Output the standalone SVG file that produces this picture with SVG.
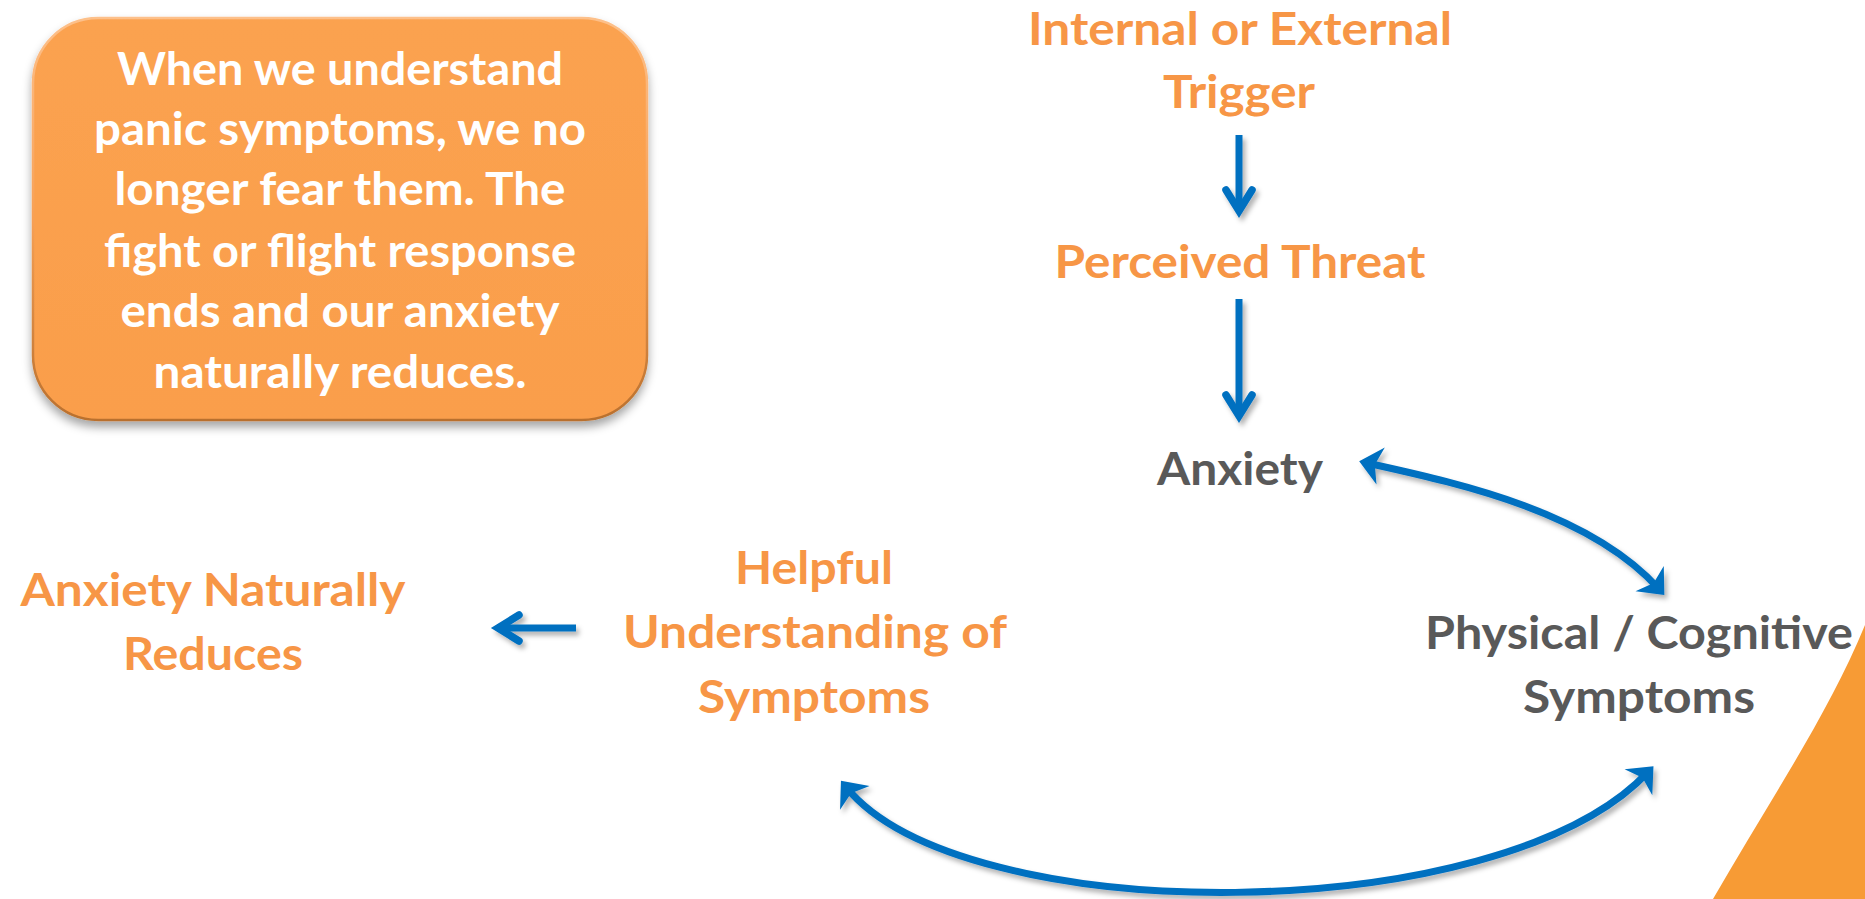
<svg xmlns="http://www.w3.org/2000/svg" width="1865" height="899" viewBox="0 0 1865 899">
  <style>
    .t { font-family: Lato, "Open Sans", "Liberation Sans", sans-serif; font-weight: 700; font-size: 46px; text-anchor: middle; }
    .o { fill: #F79646; }
    .g { fill: #595959; }
    .w { fill: #FFFFFF; }
    .line { fill: none; stroke: #0070C0; stroke-width: 7; }
  </style>
  <defs>
    <filter id="sh" x="-20%" y="-20%" width="140%" height="140%">
      <feDropShadow dx="3" dy="4" stdDeviation="2.5" flood-color="#000" flood-opacity="0.3"/>
    </filter>
    <filter id="boxsh" x="-10%" y="-10%" width="120%" height="125%">
      <feDropShadow dx="0" dy="6" stdDeviation="5" flood-color="#000" flood-opacity="0.35"/>
    </filter>
    <linearGradient id="edge" x1="0" y1="0" x2="0" y2="1">
      <stop offset="0" stop-color="#FDC08A"/>
      <stop offset="0.5" stop-color="#F7A055"/>
      <stop offset="1" stop-color="#B9702E"/>
    </linearGradient>
    <linearGradient id="fillg" x1="0" y1="0" x2="0" y2="1">
      <stop offset="0" stop-color="#FBA250"/>
      <stop offset="1" stop-color="#FA9E4B"/>
    </linearGradient>
    <marker id="head" markerUnits="userSpaceOnUse" orient="auto-start-reverse" markerWidth="1" markerHeight="1" refX="0" refY="0" overflow="visible">
      <path d="M 8 0 L -14 -19 L -8 0 L -14 19 Z" fill="#0070C0"/>
    </marker>
    <marker id="open" markerUnits="userSpaceOnUse" orient="auto" markerWidth="1" markerHeight="1" refX="0" refY="0" overflow="visible">
      <path d="M -21 -13 L 0 0 L -21 13" fill="none" stroke="#0070C0" stroke-width="7.5" stroke-linecap="round" stroke-linejoin="miter"/>
    </marker>
  </defs>

  <rect width="1865" height="899" fill="#FFFFFF"/>

  <path id="corner-shape" d="M 1865 625 C 1828 715, 1770 800, 1713 899 L 1865 899 Z" fill="#F79B35"/>

  <g id="note-box">
    <rect x="33" y="18" width="614" height="402" rx="65" ry="65" fill="url(#fillg)" stroke="url(#edge)" stroke-width="2.5" filter="url(#boxsh)"/>
    <text class="t w" x="340" y="85" textLength="446" lengthAdjust="spacingAndGlyphs">When we understand</text>
    <text class="t w" x="340" y="145" textLength="492" lengthAdjust="spacingAndGlyphs">panic symptoms, we no</text>
    <text class="t w" x="340" y="205" textLength="451" lengthAdjust="spacingAndGlyphs">longer fear them. The</text>
    <text class="t w" x="340" y="267" textLength="472" lengthAdjust="spacingAndGlyphs">fight or flight response</text>
    <text class="t w" x="340" y="327" textLength="439" lengthAdjust="spacingAndGlyphs">ends and our anxiety</text>
    <text class="t w" x="340" y="388" textLength="373" lengthAdjust="spacingAndGlyphs">naturally reduces.</text>
  </g>

  <g id="trigger">
    <text class="t o" x="1240" y="45" textLength="424" lengthAdjust="spacingAndGlyphs">Internal or External</text>
    <text class="t o" x="1239" y="108" textLength="152" lengthAdjust="spacingAndGlyphs">Trigger</text>
  </g>
  <g id="threat">
    <text class="t o" x="1240" y="278" textLength="371" lengthAdjust="spacingAndGlyphs">Perceived Threat</text>
  </g>
  <g id="anxiety">
    <text class="t g" x="1240" y="485" textLength="166" lengthAdjust="spacingAndGlyphs">Anxiety</text>
  </g>
  <g id="symptoms">
    <text class="t g" x="1639" y="649" textLength="428" lengthAdjust="spacingAndGlyphs">Physical / Cognitive</text>
    <text class="t g" x="1639" y="713" textLength="232" lengthAdjust="spacingAndGlyphs">Symptoms</text>
  </g>
  <g id="understanding">
    <text class="t o" x="814" y="584" textLength="158" lengthAdjust="spacingAndGlyphs">Helpful</text>
    <text class="t o" x="815" y="648" textLength="384" lengthAdjust="spacingAndGlyphs">Understanding of</text>
    <text class="t o" x="814" y="713" textLength="232" lengthAdjust="spacingAndGlyphs">Symptoms</text>
  </g>
  <g id="reduces">
    <text class="t o" x="213" y="606" textLength="385" lengthAdjust="spacingAndGlyphs">Anxiety Naturally</text>
    <text class="t o" x="213" y="670" textLength="180" lengthAdjust="spacingAndGlyphs">Reduces</text>
  </g>

  <g id="connectors" filter="url(#sh)">
    <line class="line" x1="1239" y1="135" x2="1239" y2="211" marker-end="url(#open)"/>
    <line class="line" x1="1239" y1="299" x2="1239" y2="416" marker-end="url(#open)"/>
    <line class="line" x1="576" y1="628" x2="498" y2="628" stroke-width="8" marker-end="url(#open)"/>
    <path class="line" d="M 1367 463 C 1452 482, 1588 510, 1659 589" marker-start="url(#head)" marker-end="url(#head)"/>
    <path class="line" d="M 846 787 C 962 930, 1500 930, 1648 772" marker-start="url(#head)" marker-end="url(#head)"/>
  </g>
</svg>
